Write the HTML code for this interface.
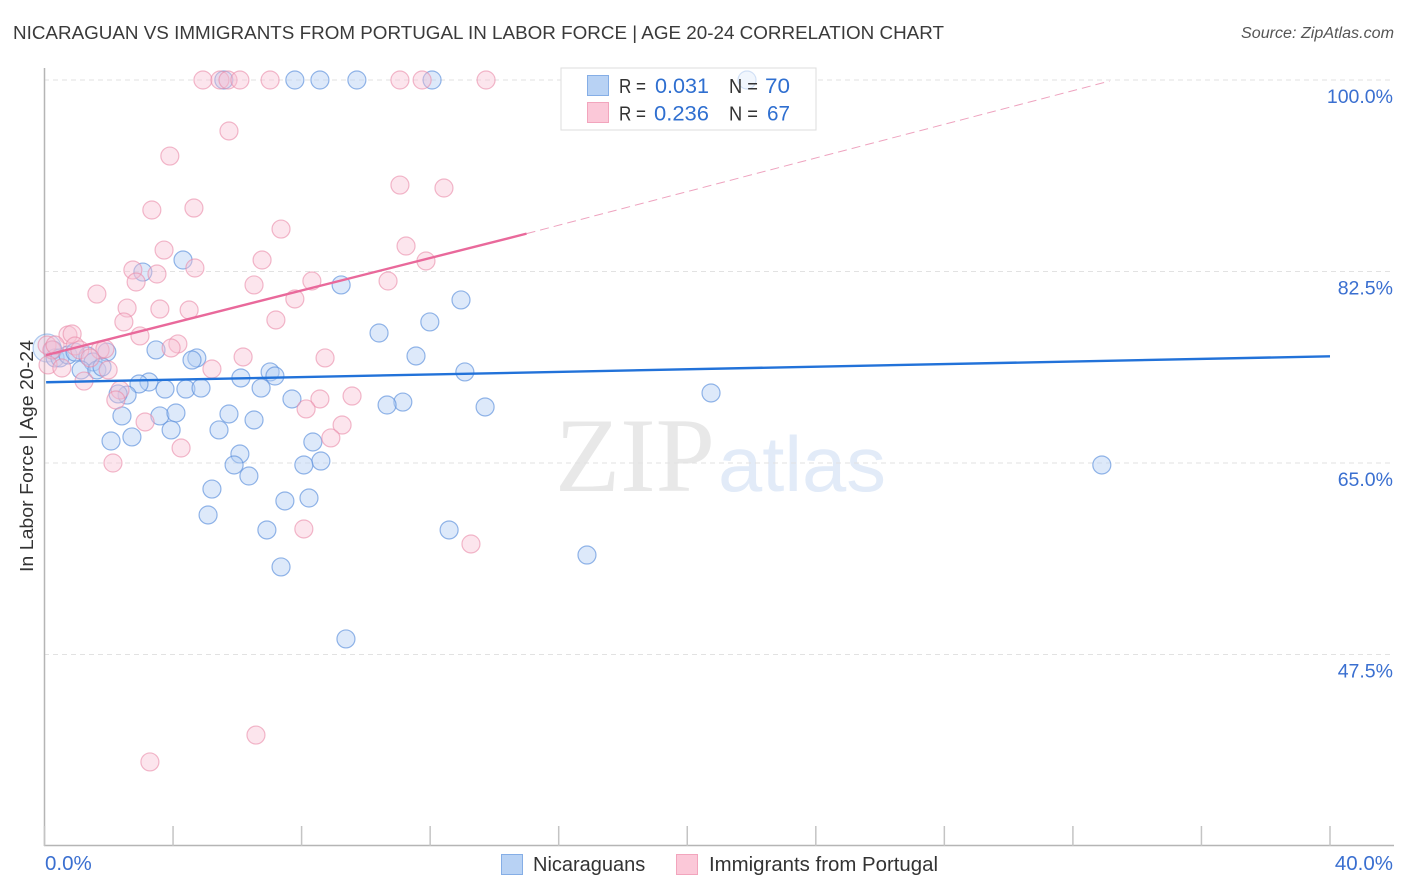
<!DOCTYPE html>
<html>
<head>
<meta charset="utf-8">
<title>Nicaraguan vs Immigrants from Portugal in Labor Force | Age 20-24 Correlation Chart</title>
<style>
html,body{margin:0;padding:0;background:#fff;}
svg{display:block;font-family:"Liberation Sans",sans-serif;}
</style>
</head>
<body>
<svg id="chart" width="1406" height="892" viewBox="0 0 1406 892" xmlns="http://www.w3.org/2000/svg">
  <text x="13" y="39" font-size="18.5" fill="#3a3a3a" textLength="931" lengthAdjust="spacingAndGlyphs">NICARAGUAN VS IMMIGRANTS FROM PORTUGAL IN LABOR FORCE | AGE 20-24 CORRELATION CHART</text>
  <text x="1241" y="38" font-size="15.5" font-style="italic" fill="#555" textLength="153" lengthAdjust="spacingAndGlyphs">Source: ZipAtlas.com</text>

  <g>
    <text x="555" y="491" font-family="'Liberation Serif',serif" font-size="106" fill="#e8e8e8" textLength="160" lengthAdjust="spacingAndGlyphs">ZIP</text>
    <text x="718" y="491" font-size="78" fill="#e2ebf8" textLength="168" lengthAdjust="spacingAndGlyphs">atlas</text>
  </g>

  <g id="grid"></g>
  <g id="axes"></g>

  <rect x="561" y="68" width="255" height="62" fill="#fff" stroke="#ddd" stroke-width="1"/>

  <g id="blue-points"></g>
  <g id="pink-points"></g>
  <g id="trends"></g>

  <rect x="561.5" y="68.5" width="254" height="61" fill="#fff" fill-opacity="0.6"/>
  <g font-size="20.5">
    <rect x="587.5" y="75.5" width="21" height="20" fill="#b8d2f4" stroke="#85aee6"/>
    <rect x="587.5" y="102.5" width="21" height="20" fill="#fbc8d8" stroke="#f2a5bd"/>
    <text x="619" y="93" fill="#333" textLength="27" lengthAdjust="spacingAndGlyphs">R =</text>
    <text x="655" y="93" fill="#2f6fd0" font-size="21.5" textLength="54" lengthAdjust="spacingAndGlyphs">0.031</text>
    <text x="729" y="93" fill="#333" textLength="29" lengthAdjust="spacingAndGlyphs">N =</text>
    <text x="765" y="93" fill="#2f6fd0" font-size="21.5" textLength="25" lengthAdjust="spacingAndGlyphs">70</text>
    <text x="619" y="120.5" fill="#333" textLength="27" lengthAdjust="spacingAndGlyphs">R =</text>
    <text x="654" y="120.5" fill="#2f6fd0" font-size="21.5" textLength="55" lengthAdjust="spacingAndGlyphs">0.236</text>
    <text x="729" y="120.5" fill="#333" textLength="29" lengthAdjust="spacingAndGlyphs">N =</text>
    <text x="767" y="120.5" fill="#2f6fd0" font-size="21.5" textLength="23" lengthAdjust="spacingAndGlyphs">67</text>
  </g>

  <text transform="translate(33,456) rotate(-90)" font-size="18.5" fill="#333" text-anchor="middle" textLength="232" lengthAdjust="spacingAndGlyphs">In Labor Force | Age 20-24</text>

  <g font-size="20" fill="#333">
    <rect x="501.5" y="854.5" width="21" height="20" fill="#b8d2f4" stroke="#85aee6"/>
    <text x="533" y="871">Nicaraguans</text>
    <rect x="676.5" y="854.5" width="21" height="20" fill="#fbc8d8" stroke="#f2a5bd"/>
    <text x="709" y="871" textLength="229" lengthAdjust="spacingAndGlyphs">Immigrants from Portugal</text>
  </g>
</svg>
<script>
const yTickValues = [100, 82.5, 65, 47.5];
const yTickLabels = ["100.0%", "82.5%", "65.0%", "47.5%"];
const xTickValues = [0, 4, 8, 12, 16, 20, 24, 28, 32, 36, 40];
const xEndLabels = ["0.0%", "40.0%"];

const blueX = [0.08,5.58,7.79,8.57,9.72,12.06,21.86,4.31,3.06,9.23,12.96,11.99,10.41,3.47,1.94,11.56,4.74,4.59,7.02,7.17,13.08,6.11,3.25,2.94,3.75,4.40,4.87,6.74,2.57,2.29,7.70,11.15,10.66,13.71,20.74,2.41,3.59,4.09,5.74,6.52,3.94,5.43,2.07,2.72,8.35,6.08,8.60,8.07,5.90,32.90,6.36,5.21,8.23,7.48,5.09,6.92,12.59,16.88,7.36,9.38,0.26,0.33,0.48,0.73,0.95,1.35,1.51,1.14,1.63,1.79];
const blueY = [75.51,100,100,100,100,100,100,83.55,82.45,81.27,79.90,77.89,76.88,75.33,75.14,74.78,74.60,74.41,73.32,72.95,73.32,72.77,72.40,72.22,71.76,71.76,71.85,71.85,71.21,71.31,70.85,70.57,70.30,70.12,71.40,69.30,69.30,69.57,69.48,68.93,68.02,68.02,67.01,67.38,66.92,65.82,65.18,64.82,64.82,64.82,63.81,62.62,61.80,61.53,60.25,58.88,58.88,56.59,55.50,48.92,75.33,74.60,74.60,74.87,75.14,74.78,74.23,73.50,73.50,73.77];
const blueLargeIndex = 0;

const pinkX = [4.93,5.46,5.71,6.08,7.02,11.06,11.75,13.74,5.74,3.90,11.06,12.43,3.34,4.65,7.36,11.25,3.72,6.77,11.87,4.68,2.75,3.50,2.85,6.52,8.32,10.69,1.63,7.79,2.57,3.59,4.50,2.47,7.20,0.73,0.86,2.97,4.15,3.94,6.18,8.73,5.21,1.98,1.23,2.35,2.22,8.57,9.57,8.14,3.13,9.26,8.91,4.25,2.13,8.07,13.27,6.58,3.28,0.08,0.23,0.33,0.11,0.54,0.95,1.10,1.73,1.88,1.42];
const pinkY = [100,100,100,100,100,100,100,100,95.34,93.05,90.40,90.13,88.12,88.30,86.38,84.83,84.46,83.55,83.46,82.82,82.64,82.27,81.54,81.27,81.63,81.63,80.44,79.99,79.16,79.07,78.98,77.89,78.07,76.70,76.79,76.61,75.88,75.51,74.69,74.60,73.59,73.50,72.49,71.67,70.76,70.85,71.12,69.94,68.75,68.47,67.29,66.37,65.00,58.97,57.60,40.14,37.68,75.78,75.33,75.78,73.96,73.68,75.69,75.33,75.33,75.42,74.60];

const blueTrendX = [0.05, 40];
const blueTrendY = [72.38, 74.75];
const pinkTrendSolidX = [0.05, 15];
const pinkTrendSolidY = [74.86, 85.96];
const pinkTrendDashX = [15, 33.14];
const pinkTrendDashY = [85.96, 99.9];

const NS = "http://www.w3.org/2000/svg";
function xScale(v) { return 44.5 + v * (1330 - 44.5) / 40; }
function yScale(v) { return 80 + (100 - v) * (654.5 - 80) / 52.5; }
function make(tag, attrs, parent) {
  const el = document.createElementNS(NS, tag);
  for (const k in attrs) el.setAttribute(k, attrs[k]);
  parent.appendChild(el);
  return el;
}

const grid = document.getElementById("grid");
const axes = document.getElementById("axes");
yTickValues.forEach(function (v, i) {
  const line = make("line", {x1: 44, x2: 1394, y1: yScale(v), y2: yScale(v), stroke: "#e2e2e2", "stroke-width": 1, "stroke-dasharray": "5 4"}, grid);
  
  
  const label = make("text", {x: 1393, y: yScale(v) + 23, "font-size": 19.5, fill: "#3a6fd0", "text-anchor": "end"}, axes);
  label.textContent = yTickLabels[i];
  
  
});
const yAxisLine = make("line", {x1: 44.5, x2: 44.5, y1: 68, y2: 846, stroke: "#b5b5b5", "stroke-width": 1.5}, axes);


const xAxisLine = make("line", {x1: 44, x2: 1394, y1: 845.5, y2: 845.5, stroke: "#b5b5b5", "stroke-width": 1.5}, axes);


xTickValues.forEach(function (v) {
  const tick = make("line", {x1: xScale(v), x2: xScale(v), y1: 826, y2: 846, stroke: "#c4c4c4", "stroke-width": 1.5}, axes);
  
  
});
const xLabelStart = make("text", {x: 45, y: 870, "font-size": 20.5, fill: "#3a6fd0"}, axes);
xLabelStart.textContent = xEndLabels[0];


const xLabelEnd = make("text", {x: 1393, y: 870, "font-size": 20.5, fill: "#3a6fd0", "text-anchor": "end"}, axes);
xLabelEnd.textContent = xEndLabels[1];



const bluePoints = document.getElementById("blue-points");
blueX.forEach(function (v, i) {
  const c = make("circle", {cx: xScale(v), cy: yScale(blueY[i]), r: i === blueLargeIndex ? 14 : 9, fill: "#b4cff3", "fill-opacity": i === blueLargeIndex ? 0.3 : 0.45, stroke: "#5b8fdc", "stroke-opacity": i === blueLargeIndex ? 0.45 : 0.65, "stroke-width": 1.2}, bluePoints);
  
  
});
const pinkPoints = document.getElementById("pink-points");
pinkX.forEach(function (v, i) {
  const c = make("circle", {cx: xScale(v), cy: yScale(pinkY[i]), r: 9, fill: "#f9c2d3", "fill-opacity": 0.42, stroke: "#ea8aa9", "stroke-opacity": 0.6, "stroke-width": 1.2}, pinkPoints);
  
  
});

const trends = document.getElementById("trends");
const blueTrend = make("line", {x1: xScale(blueTrendX[0]), y1: yScale(blueTrendY[0]), x2: xScale(blueTrendX[1]), y2: yScale(blueTrendY[1]), stroke: "#2272d9", "stroke-width": 2.4}, trends);


const pinkSolid = make("line", {x1: xScale(pinkTrendSolidX[0]), y1: yScale(pinkTrendSolidY[0]), x2: xScale(pinkTrendSolidX[1]), y2: yScale(pinkTrendSolidY[1]), stroke: "#e9699b", "stroke-width": 2.4}, trends);


const pinkDash = make("line", {x1: xScale(pinkTrendDashX[0]), y1: yScale(pinkTrendDashY[0]), x2: xScale(pinkTrendDashX[1]), y2: yScale(pinkTrendDashY[1]), stroke: "#eea3bf", "stroke-width": 1, "stroke-dasharray": "9 5"}, trends);


</script>
</body>
</html>
